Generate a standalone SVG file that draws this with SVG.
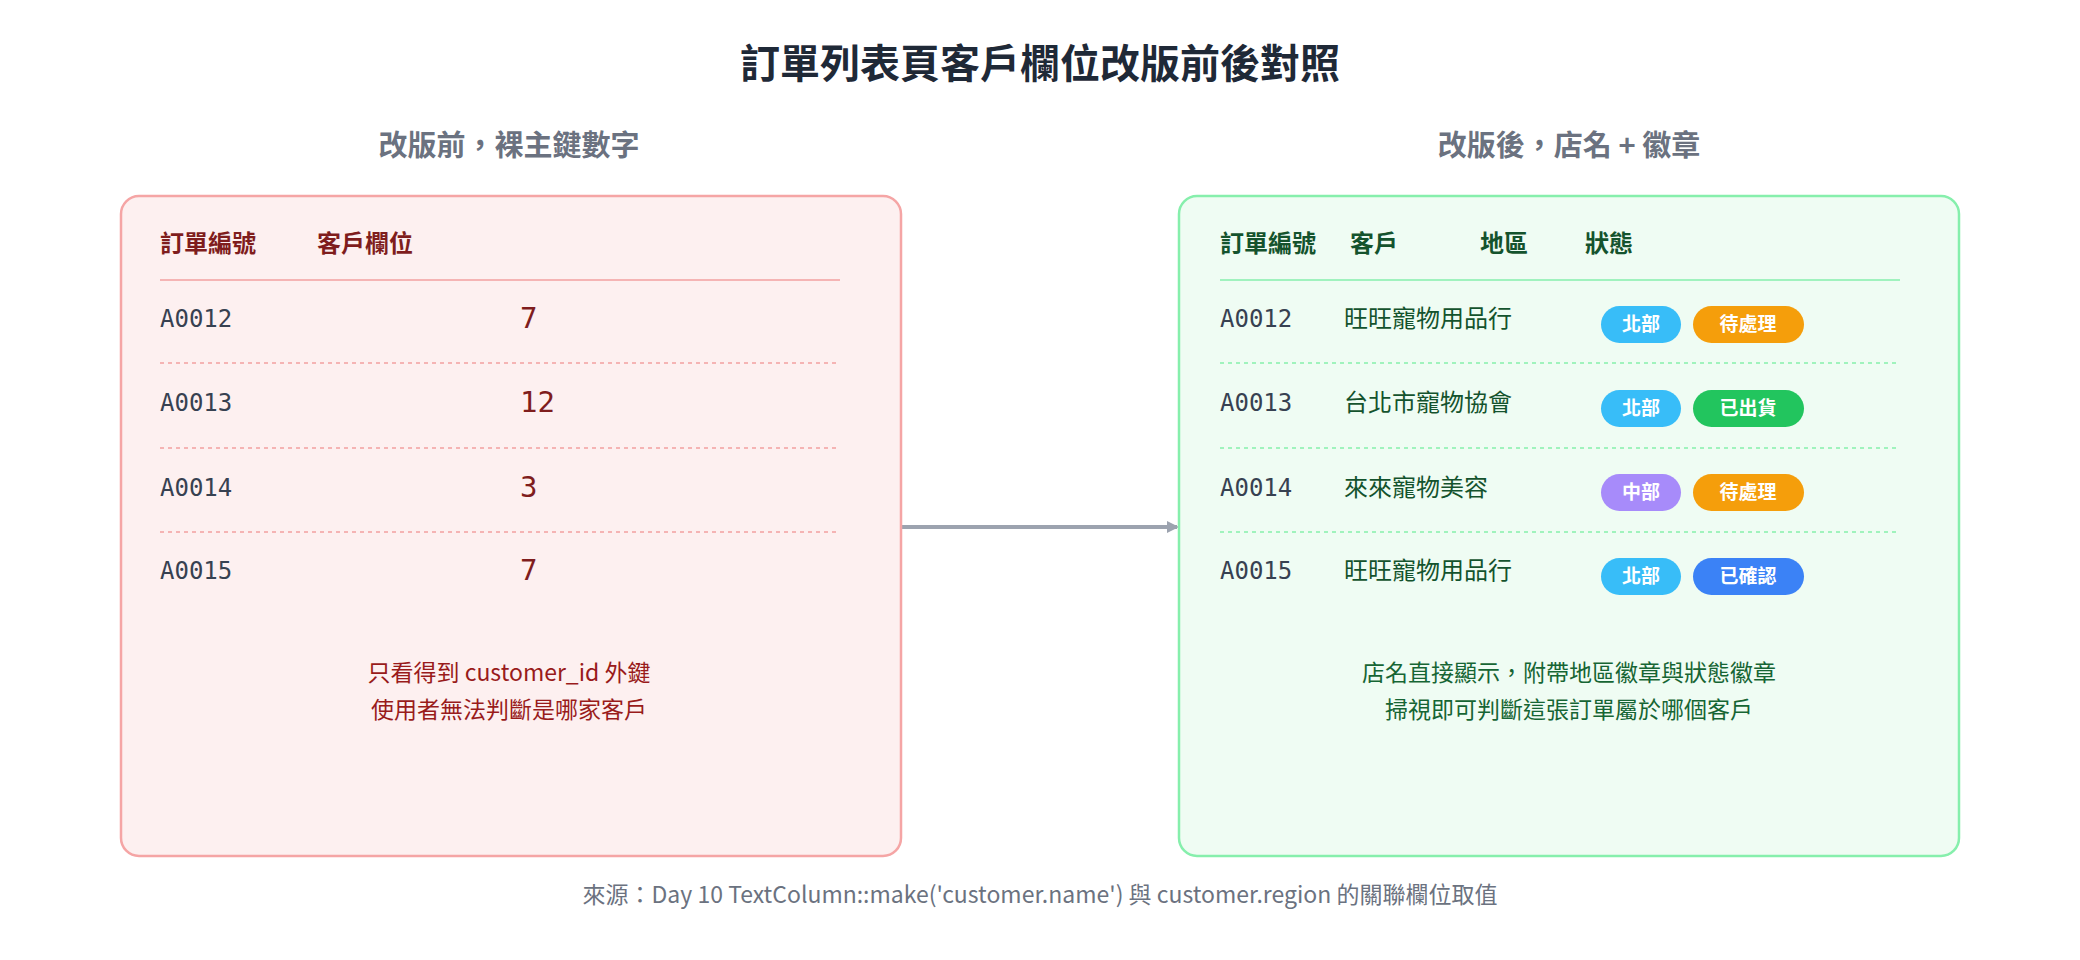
<svg xmlns="http://www.w3.org/2000/svg" width="2080" height="960" viewBox="0 0 2080 960">
<defs>
<style>
text{font-family:"Noto Sans CJK TC","Noto Sans",sans-serif}
.t{font-size:40px;font-weight:700;fill:#1f2937}
.sub{font-size:29px;font-weight:700;fill:#6b7280}
.hl{font-size:24px;font-weight:700;fill:#7f1d1d}
.hr{font-size:24px;font-weight:700;fill:#14532d}
.id{font-family:"DejaVu Sans Mono",monospace;font-size:24px;fill:#374151}
.vl{font-family:"DejaVu Sans Mono",monospace;font-size:29px;fill:#7f1d1d}
.nm{font-size:24px;fill:#14532d}
.fl{font-size:23px;fill:#991b1b}
.fr{font-size:23px;fill:#166534}
.b{font-size:19px;font-weight:700;fill:#fff}
.src{font-size:23px;fill:#6b7280}
.dl{stroke:#f2a0a0;stroke-width:1.5;stroke-dasharray:4 4}
.dr{stroke:#86efac;stroke-width:1.5;stroke-dasharray:4 4}
</style>
<marker id="ah" markerWidth="12" markerHeight="12" refX="10" refY="6" orient="auto" markerUnits="userSpaceOnUse"><path d="M0,0L12,6L0,12Z" fill="#9ca3af"/></marker>
</defs>
<rect width="2080" height="960" fill="#fff"/>
<text class="t" x="1040" y="78" text-anchor="middle">訂單列表頁客戶欄位改版前後對照</text>
<text class="sub" x="509" y="156" text-anchor="middle">改版前，裸主鍵數字</text>
<text class="sub" x="1569" y="156" text-anchor="middle">改版後，店名 + 徽章</text>
<g id="connectors"><line x1="901" y1="527" x2="1177" y2="527" stroke="#9ca3af" stroke-width="4" marker-end="url(#ah)"/></g>
<g id="before">
<rect x="121" y="196" width="780" height="660" rx="18" fill="#fdf0f0" stroke="#f5a5a5" stroke-width="2.5"/>
<text class="hl" x="160" y="252">訂單編號</text><text class="hl" x="317" y="252">客戶欄位</text>
<line x1="160" y1="280" x2="840" y2="280" stroke="#f2a0a0" stroke-width="1.5"/>
<text class="id" x="160" y="327">A0012</text><text class="vl" x="520" y="328">7</text>
<line class="dl" x1="160" y1="363" x2="840" y2="363"/>
<text class="id" x="160" y="411">A0013</text><text class="vl" x="520" y="412">12</text>
<line class="dl" x1="160" y1="448" x2="840" y2="448"/>
<text class="id" x="160" y="496">A0014</text><text class="vl" x="520" y="497">3</text>
<line class="dl" x1="160" y1="532" x2="840" y2="532"/>
<text class="id" x="160" y="579">A0015</text><text class="vl" x="520" y="580">7</text>
<text class="fl" x="509" y="681" text-anchor="middle">只看得到 customer_id 外鍵</text>
<text class="fl" x="509" y="718" text-anchor="middle">使用者無法判斷是哪家客戶</text>
</g>
<g id="after">
<rect x="1179" y="196" width="780" height="660" rx="18" fill="#effcf3" stroke="#86efac" stroke-width="2.5"/>
<text class="hr" x="1220" y="252">訂單編號</text><text class="hr" x="1350" y="252">客戶</text><text class="hr" x="1480" y="252">地區</text><text class="hr" x="1585" y="252">狀態</text>
<line x1="1220" y1="280" x2="1900" y2="280" stroke="#86efac" stroke-width="1.5"/>
<text class="id" x="1220" y="327">A0012</text><text class="nm" x="1344" y="327">旺旺寵物用品行</text>
<rect x="1601" y="306" width="80" height="37" rx="18.5" fill="#38bdf8"/><text class="b" x="1641" y="331" text-anchor="middle">北部</text>
<rect x="1693" y="306" width="111" height="37" rx="18.5" fill="#f59e0b"/><text class="b" x="1748" y="331" text-anchor="middle">待處理</text>
<line class="dr" x1="1220" y1="363" x2="1900" y2="363"/>
<text class="id" x="1220" y="411">A0013</text><text class="nm" x="1344" y="411">台北市寵物協會</text>
<rect x="1601" y="390" width="80" height="37" rx="18.5" fill="#38bdf8"/><text class="b" x="1641" y="415" text-anchor="middle">北部</text>
<rect x="1693" y="390" width="111" height="37" rx="18.5" fill="#22c55e"/><text class="b" x="1748" y="415" text-anchor="middle">已出貨</text>
<line class="dr" x1="1220" y1="448" x2="1900" y2="448"/>
<text class="id" x="1220" y="496">A0014</text><text class="nm" x="1344" y="496">來來寵物美容</text>
<rect x="1601" y="474" width="80" height="37" rx="18.5" fill="#a78bfa"/><text class="b" x="1641" y="499" text-anchor="middle">中部</text>
<rect x="1693" y="474" width="111" height="37" rx="18.5" fill="#f59e0b"/><text class="b" x="1748" y="499" text-anchor="middle">待處理</text>
<line class="dr" x1="1220" y1="532" x2="1900" y2="532"/>
<text class="id" x="1220" y="579">A0015</text><text class="nm" x="1344" y="579">旺旺寵物用品行</text>
<rect x="1601" y="558" width="80" height="37" rx="18.5" fill="#38bdf8"/><text class="b" x="1641" y="583" text-anchor="middle">北部</text>
<rect x="1693" y="558" width="111" height="37" rx="18.5" fill="#3b82f6"/><text class="b" x="1748" y="583" text-anchor="middle">已確認</text>
<text class="fr" x="1569" y="681" text-anchor="middle">店名直接顯示，附帶地區徽章與狀態徽章</text>
<text class="fr" x="1569" y="718" text-anchor="middle">掃視即可判斷這張訂單屬於哪個客戶</text>
</g>
<text class="src" x="1040" y="903" text-anchor="middle">來源：Day 10 TextColumn::make('customer.name') 與 customer.region 的關聯欄位取值</text>
</svg>
